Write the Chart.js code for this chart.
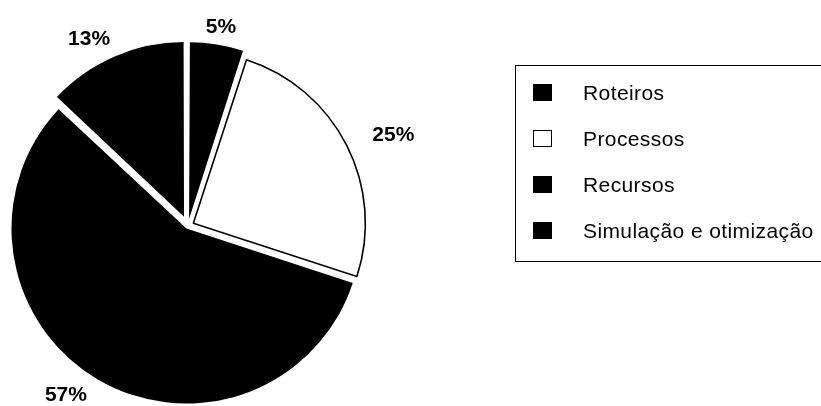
<!DOCTYPE html>
<html>
<head>
<meta charset="utf-8">
<script src="https://cdn.jsdelivr.net/npm/chart.js@4/dist/chart.umd.min.js"></script>
<style>
  html, body { margin: 0; padding: 0; background: #fff; }
  #wrap { position: relative; width: 821px; height: 406px; overflow: hidden; }
  #pie { position: absolute; left: 0; top: 0; }
  #legend {
    position: absolute; left: 515px; top: 65px; width: 320px; height: 197px;
    border: 1px solid #000; box-sizing: border-box;
    font-family: "Liberation Sans", Arial, sans-serif; font-size: 21px; color: #000;
  }
  .sw { position: absolute; left: 17px; width: 19px; height: 17px; box-sizing: border-box; }
  .lbl { position: absolute; left: 67px; white-space: nowrap; letter-spacing: 0.4px; line-height: 26px; }
</style>
</head>
<body>
<div id="wrap">
  <canvas id="pie" width="821" height="406"></canvas>
  <div id="legend"></div>
</div>
<script>
// Share of each theme (percent)
const categories = ['Roteiros', 'Processos', 'Recursos', 'Simulação e otimização'];
const shares = [5, 25, 57, 13];
const fills = ['#000000', '#ffffff', '#000000', '#000000'];

// How far each slice is pulled out from the centre (Chart.js offset units)
const explode = [28, 24, 12, 40];

// Percent labels set outside each slice, along its bisector
const percentLabels = {
  id: 'percentLabels',
  afterDatasetsDraw(chart) {
    const ctx = chart.ctx;
    const meta = chart.getDatasetMeta(0);
    const spreadX = 229, spreadY = 194, nudgeX = -4;
    ctx.save();
    ctx.font = 'bold 21px "Liberation Sans", Arial, sans-serif';
    ctx.fillStyle = '#000';
    ctx.textAlign = 'center';
    ctx.textBaseline = 'middle';
    meta.data.forEach((arc, i) => {
      const p = arc.getProps(['x', 'y', 'startAngle', 'endAngle'], true);
      const mid = (p.startAngle + p.endAngle) / 2;
      const c = Math.cos(mid), s = Math.sin(mid);
      const shift = (arc.options.offset || 0) / 4;
      const x = p.x + c * (shift + spreadX) + nudgeX;
      const y = p.y + s * (shift + spreadY);
      ctx.fillText(shares[i] + '%', x, y);
    });
    ctx.restore();
  }
};

new Chart(document.getElementById('pie'), {
  type: 'pie',
  data: {
    labels: categories,
    datasets: [{
      data: shares,
      backgroundColor: fills,
      borderColor: '#000000',
      borderWidth: [0, 1.6, 0, 0],
      offset: explode,
      radius: 172
    }]
  },
  options: {
    responsive: false,
    animation: false,
    events: [],
    layout: { padding: { left: 0, right: 445, top: 46, bottom: 0 } },
    plugins: { legend: { display: false }, tooltip: { enabled: false } }
  },
  plugins: [percentLabels]
});

// Legend box
const legend = document.getElementById('legend');
const rowCenters = [27, 73, 119, 165];
categories.forEach((name, i) => {
  const sw = document.createElement('div');
  sw.className = 'sw';
  sw.style.top = (rowCenters[i] - 9) + 'px';
  sw.style.background = fills[i];
  sw.style.border = '1.5px solid #000';
  legend.appendChild(sw);
  const t = document.createElement('div');
  t.className = 'lbl';
  t.textContent = name;
  t.style.top = (rowCenters[i] - 13) + 'px';
  legend.appendChild(t);
});
</script>
</body>
</html>
